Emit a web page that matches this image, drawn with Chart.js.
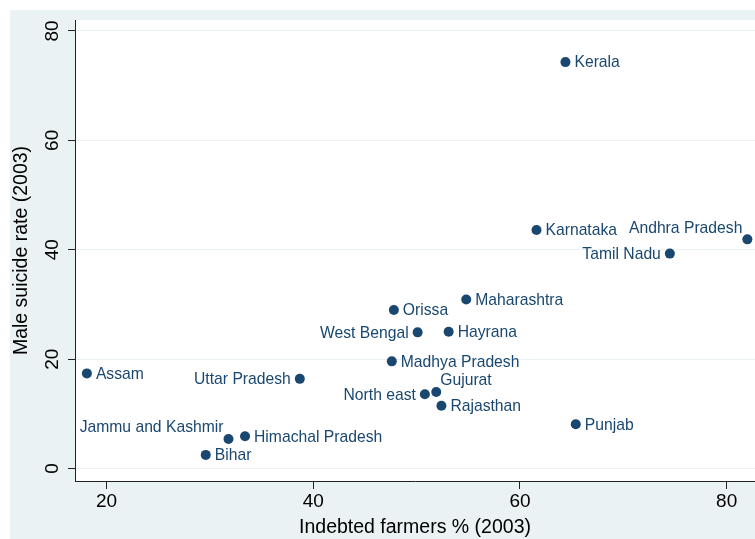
<!DOCTYPE html>
<html>
<head>
<meta charset="utf-8">
<title>Indebted farmers and male suicide rate, 2003</title>
<script src="https://cdn.jsdelivr.net/npm/chart.js@4.4.1/dist/chart.umd.min.js"></script>
<style>
  html, body { margin: 0; padding: 0; background: #fff; }
  #wrap { width: 755px; height: 539px; }
</style>
</head>
<body>
<div id="wrap"><canvas id="chart" width="755" height="539"></canvas></div>
<script>
// values
var states = ['Kerala', 'Karnataka', 'Andhra Pradesh', 'Tamil Nadu', 'Maharashtra', 'Orissa',
    'West Bengal', 'Hayrana', 'Madhya Pradesh', 'Assam', 'Uttar Pradesh', 'North east',
    'Gujurat', 'Rajasthan', 'Punjab', 'Jammu and Kashmir', 'Himachal Pradesh', 'Bihar'];
var indebted = [64.4, 61.6, 82.0, 74.5, 54.8, 47.8, 50.1, 53.1, 47.6, 18.1, 38.7, 50.8,
    51.9, 52.4, 65.4, 31.8, 33.4, 29.6];
var suicideRate = [74.3, 43.6, 41.9, 39.3, 30.9, 29.0, 24.9, 25.0, 19.6, 17.4, 16.4, 13.6,
    14.0, 11.5, 8.1, 5.4, 5.9, 2.5];
var xTicks = [20, 40, 60, 80];
var yTicks = [0, 20, 40, 60, 80];

// where each marker label sits relative to its marker
var labelSide = ['right', 'right', 'upleft', 'left', 'right', 'right', 'left', 'right',
    'right', 'right', 'left', 'left', 'upright', 'right', 'right', 'upleft', 'right', 'right'];

var NAVY = '#1a476f';
var OUTER = '#eaf2f3';
var GRID = '#eaf2f3';
var AXIS = '#222';
var FONT = '"Liberation Sans", Arial, Helvetica, sans-serif';

var points = indebted.map(function(v, i) {
    return { x: v, y: suicideRate[i] };
});

var background = {
    id: 'background',
    beforeDraw: function(chart) {
        var ctx = chart.ctx;
        var a = chart.chartArea;
        ctx.save();
        ctx.fillStyle = '#fff';
        ctx.fillRect(0, 0, chart.width, chart.height);
        ctx.fillStyle = OUTER;
        ctx.fillRect(10, 10, chart.width - 10, chart.height - 10);
        ctx.fillStyle = '#fff';
        ctx.fillRect(a.left, a.top, a.right - a.left, a.bottom - a.top);
        ctx.restore();
    }
};

var markerLabels = {
    id: 'markerLabels',
    afterDatasetsDraw: function(chart) {
        var ctx = chart.ctx;
        var pts = chart.getDatasetMeta(0).data;
        ctx.save();
        ctx.font = '15.7px ' + FONT;
        ctx.fillStyle = NAVY;
        ctx.textBaseline = 'middle';
        pts.forEach(function(p, i) {
            var side = labelSide[i];
            var x = p.x, y = p.y + 1;
            if (side === 'left') {
                ctx.textAlign = 'right'; x -= 9;
            } else if (side === 'upleft') {
                ctx.textAlign = 'right'; x -= 5; y -= 12;
            } else if (side === 'upright') {
                ctx.textAlign = 'left'; x += 4; y -= 12;
            } else {
                ctx.textAlign = 'left'; x += 9;
            }
            ctx.fillText(states[i], x, y);
        });
        ctx.restore();
    }
};

function fixedTicks(list) {
    return function(scale) {
        scale.ticks = list.map(function(v) { return { value: v }; });
    };
}

new Chart(document.getElementById('chart'), {
    type: 'scatter',
    data: {
        datasets: [{
            data: points,
            backgroundColor: NAVY,
            borderWidth: 0,
            pointRadius: 5,
            pointHoverRadius: 5
        }]
    },
    options: {
        responsive: false,
        animation: false,
        devicePixelRatio: 1,
        events: [],
        layout: { autoPadding: false, padding: { left: 0, top: 20, right: 0, bottom: 0 } },
        plugins: {
            legend: { display: false },
            tooltip: { enabled: false }
        },
        scales: {
            x: {
                type: 'linear',
                min: 16.95,
                max: 82.74,
                afterBuildTicks: fixedTicks(xTicks),
                afterFit: function(s) { s.height = 58; },
                grid: { drawOnChartArea: false, color: AXIS, tickColor: AXIS, tickLength: 8 },
                border: { color: AXIS, width: 1 },
                ticks: { color: '#000', font: { size: 19, family: FONT }, padding: 1,
                    maxRotation: 0, autoSkip: false },
                title: { display: true, text: 'Indebted farmers % (2003)', color: '#000',
                    font: { size: 19.5, family: FONT }, padding: { top: 0, bottom: 0 } }
            },
            y: {
                type: 'linear',
                min: -2.27,
                max: 82.0,
                afterBuildTicks: fixedTicks(yTicks),
                afterFit: function(s) { s.width = 75; },
                grid: { color: GRID, lineWidth: 1, tickColor: AXIS, tickLength: 7 },
                border: { color: AXIS, width: 1 },
                ticks: { color: '#000', font: { size: 19, family: FONT }, padding: 5,
                    minRotation: 90, maxRotation: 90, crossAlign: 'center', autoSkip: false },
                title: { display: true, text: 'Male suicide rate (2003)', color: '#000',
                    font: { size: 19.5, family: FONT }, padding: { top: 10.3, bottom: 0 } }
            }
        }
    },
    plugins: [background, markerLabels]
});
</script>
</body>
</html>
